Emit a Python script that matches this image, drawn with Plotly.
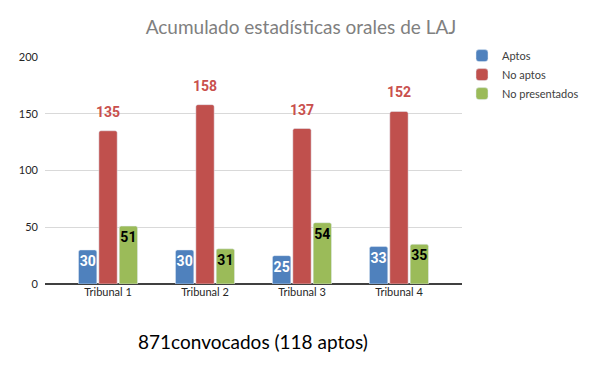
import plotly.graph_objects as go

categories = ["Tribunal 1", "Tribunal 2", "Tribunal 3", "Tribunal 4"]
aptos = [30, 30, 25, 33]
no_aptos = [135, 158, 137, 152]
no_presentados = [51, 31, 54, 35]
y_ticks = [0, 50, 100, 150, 200]
title_text = "Acumulado estadísticas orales de LAJ"
footer_text = "871convocados (118 aptos)"

BLUE = "#4F81BD"
RED = "#C0504D"
GREEN = "#9BBB59"
LABEL_FONT = "Roboto"
TEXT_FONT = "Lato"
OFF = 8  # page body offset

fig = go.Figure()
fig.add_trace(go.Bar(
    name="Aptos", x=categories, y=aptos, marker_color=BLUE,
    text=aptos, textposition="inside", insidetextanchor="end",
    constraintext="none", textangle=0,
    textfont=dict(family=LABEL_FONT, size=14, color="white", weight="bold"),
    legendgroup="a",
))
fig.add_trace(go.Bar(
    name="No aptos", x=categories, y=no_aptos, marker_color=RED,
    legendgroup="b",
))
fig.add_trace(go.Bar(
    name="No presentados", x=categories, y=no_presentados, marker_color=GREEN,
    text=no_presentados, textposition="inside", insidetextanchor="end",
    constraintext="none", textangle=0,
    textfont=dict(family=LABEL_FONT, size=14, color="black", weight="bold"),
    legendgroup="c",
))

for c, v in zip(categories, no_aptos):
    fig.add_annotation(
        x=c, y=v, text=str(v), showarrow=False, yshift=19,
        font=dict(family=LABEL_FONT, size=14, color="#C9504D", weight="bold"),
    )

fig.update_layout(
    width=600, height=371,
    margin=dict(l=45 - OFF, r=138 + OFF, t=57 - OFF, b=87 + OFF, autoexpand=False),
    paper_bgcolor="white", plot_bgcolor="white",
    barmode="group", bargap=0.37, bargroupgap=0.1,
    barcornerradius=2,
    title=dict(text=title_text, x=(301 - OFF) / 600, xanchor="center",
               y=1 - (27 - OFF) / 371, yanchor="middle",
               font=dict(family=TEXT_FONT, size=19, color="#808080")),
    legend=dict(x=1.0, xanchor="left", y=1.07, yanchor="top",
                font=dict(family=TEXT_FONT, size=11, color="#404040"),
                tracegroupgap=9, traceorder="normal", bgcolor="rgba(0,0,0,0)"),
    font=dict(family=TEXT_FONT, size=11, color="#404040"),
)
fig.update_xaxes(
    range=[-0.65, 3.65], showgrid=False, showline=False, ticks="",
    tickfont=dict(family=TEXT_FONT, size=11, color="#262626"),
)
fig.update_yaxes(
    range=[0, 200], tickvals=y_ticks, showgrid=True, gridcolor="#D9D9D9",
    gridwidth=1, zeroline=True, zerolinecolor="#404040", zerolinewidth=1.5,
    showline=False, ticks="", ticklabelstandoff=6,
    tickfont=dict(family=TEXT_FONT, size=11, color="#262626"),
)
fig.add_annotation(
    xref="paper", yref="paper", x=(253 - 45) / 417, y=(284 - 341) / 227,
    xanchor="center", yanchor="middle", text=footer_text, showarrow=False,
    font=dict(family=TEXT_FONT, size=19, color="black"),
)

fig.write_html("out.html")
